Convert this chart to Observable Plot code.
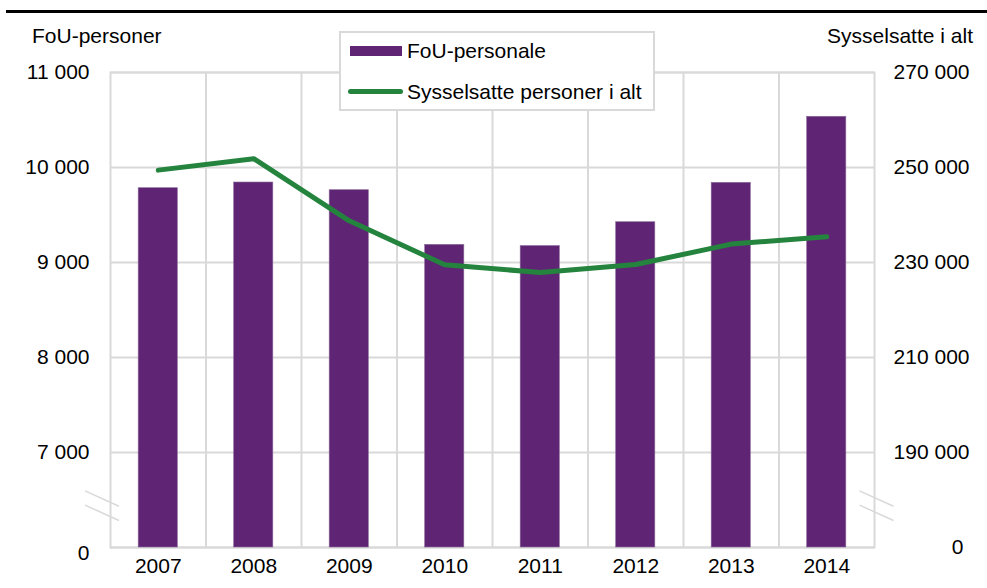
<!DOCTYPE html>
<html>
<head>
<meta charset="utf-8">
<script src="https://cdn.jsdelivr.net/npm/d3@7"></script>
<script src="https://cdn.jsdelivr.net/npm/@observablehq/plot@0.6"></script>
<style>
  html, body { margin: 0; padding: 0; background: #fff; }
  #wrap { position: relative; width: 987px; height: 588px; font-family: "Liberation Sans", Arial, sans-serif; color: #000; overflow: hidden; }
  .abs { position: absolute; font-size: 21px; line-height: 21px; white-space: nowrap; }
  #rule { position: absolute; left: 6px; right: 0; top: 10px; height: 3px; background: #000; }
  #legend { position: absolute; left: 339px; top: 31px; width: 312px; height: 76px; border: 2px solid #d9d9d9; background: #fff; }
</style>
</head>
<body>
<div id="wrap">
  <div id="rule"></div>
  <div id="chart"></div>
  <div class="abs" id="ytitleL" style="left:32px; top:25px;"></div>
  <div class="abs" id="ytitleR" style="right:14px; top:25px;"></div>
  <div id="legend">
    <div style="position:absolute; left:9px; top:13px; width:52px; height:10px; background:#5f2574;"></div>
    <div class="abs" id="leg1" style="left:66px; top:7px;"></div>
    <div style="position:absolute; left:7px; top:56px; width:55px; height:5px; border-radius:3px; background:#24843e;"></div>
    <div class="abs" id="leg2" style="left:66px; top:48px;"></div>
  </div>
</div>
<script>
// ---- data ----
const years = ["2007", "2008", "2009", "2010", "2011", "2012", "2013", "2014"];
const fouPersonale = [9782, 9842, 9761, 9186, 9173, 9424, 9839, 10534];
const sysselsatte = [249450, 251850, 238780, 229520, 227900, 229580, 233870, 235420];

const leftTickValues = [6000, 7000, 8000, 9000, 10000, 11000];
const leftTickLabels = ["0", "7 000", "8 000", "9 000", "10 000", "11 000"];
const rightTickValues = [170000, 190000, 210000, 230000, 250000, 270000];
const rightTickLabels = ["0", "190 000", "210 000", "230 000", "250 000", "270 000"];
const axisBreakLevels = [6510, 6360];

const seriesNames = ["FoU-personale", "Sysselsatte personer i alt"];
const axisTitles = ["FoU-personer", "Sysselsatte i alt"];

// right axis -> left axis units
const rightToLeft = v => (v - 50000) / 20;

const data = years.map((y, i) => ({ year: y, fou: fouPersonale[i], sys: sysselsatte[i] }));
const leftTicks = leftTickValues.map((v, i) => ({ v, label: leftTickLabels[i] }));
const rightTicks = rightTickValues.map((v, i) => ({ v: rightToLeft(v), label: rightTickLabels[i] }));

const W = 987, H = 588, ML = 110, MR = 113, MT = 72, MB = 41;
const step = (W - ML - MR) / years.length;
const grid = "#d9d9d9";

const breakMarks = (index, scales, values, dims) => {
  const g = d3.create("svg:g").attr("stroke", grid).attr("stroke-width", 1.5);
  const centers = [dims.marginLeft - 8, dims.width - dims.marginRight + 2.5];
  for (const cx of centers) {
    for (const lvl of axisBreakLevels) {
      const cy = scales.y(lvl);
      g.append("line").attr("x1", cx - 17).attr("y1", cy - 7.7).attr("x2", cx + 17).attr("y2", cy + 7.7);
    }
  }
  return g.node();
};

const chart = Plot.plot({
  width: W, height: H,
  marginLeft: ML, marginRight: MR, marginTop: MT, marginBottom: MB,
  style: { fontFamily: "'Liberation Sans', Arial, sans-serif", fontSize: "21px", color: "#000", background: "transparent" },
  x: { type: "band", domain: years, paddingInner: 0.59, paddingOuter: 0.295, round: false, axis: null },
  y: { domain: [6000, 11000], clamp: true, axis: null },
  marks: [
    Plot.ruleY(leftTickValues, { stroke: grid, strokeWidth: 2 }),
    Plot.ruleX(years.slice(1), { x: d => d, dx: -step / 2, stroke: grid, strokeWidth: 2 }),
    Plot.frame({ stroke: grid, strokeWidth: 2 }),
    breakMarks,
    Plot.barY(data, { x: "year", y: "fou", fill: "#5f2574", stroke: "#8a6a99", strokeWidth: 0.6 }),
    Plot.lineY(data, { x: "year", y: d => rightToLeft(d.sys), stroke: "#24843e", strokeWidth: 5, strokeLinecap: "round", strokeLinejoin: "round" }),
    Plot.text(data, { x: "year", text: "year", frameAnchor: "bottom", dy: 18.5, lineAnchor: "middle", fill: "#000" }),
    Plot.text(leftTicks.slice(1), { y: "v", text: "label", frameAnchor: "left", dx: -21, textAnchor: "end", lineAnchor: "middle", fill: "#000" }),
    Plot.text(leftTicks.slice(0, 1), { y: "v", text: "label", frameAnchor: "left", dx: -21, dy: 6, textAnchor: "end", lineAnchor: "middle", fill: "#000" }),
    Plot.text(rightTicks.slice(1), { y: "v", text: "label", frameAnchor: "right", dx: 95, textAnchor: "end", lineAnchor: "middle", fill: "#000" }),
    Plot.text(rightTicks.slice(0, 1), { y: "v", text: "label", frameAnchor: "right", dx: 89, textAnchor: "end", lineAnchor: "middle", fill: "#000" })
  ]
});
document.getElementById("chart").appendChild(chart);
document.getElementById("ytitleL").textContent = axisTitles[0];
document.getElementById("ytitleR").textContent = axisTitles[1];
document.getElementById("leg1").textContent = seriesNames[0];
document.getElementById("leg2").textContent = seriesNames[1];
</script>
</body>
</html>
